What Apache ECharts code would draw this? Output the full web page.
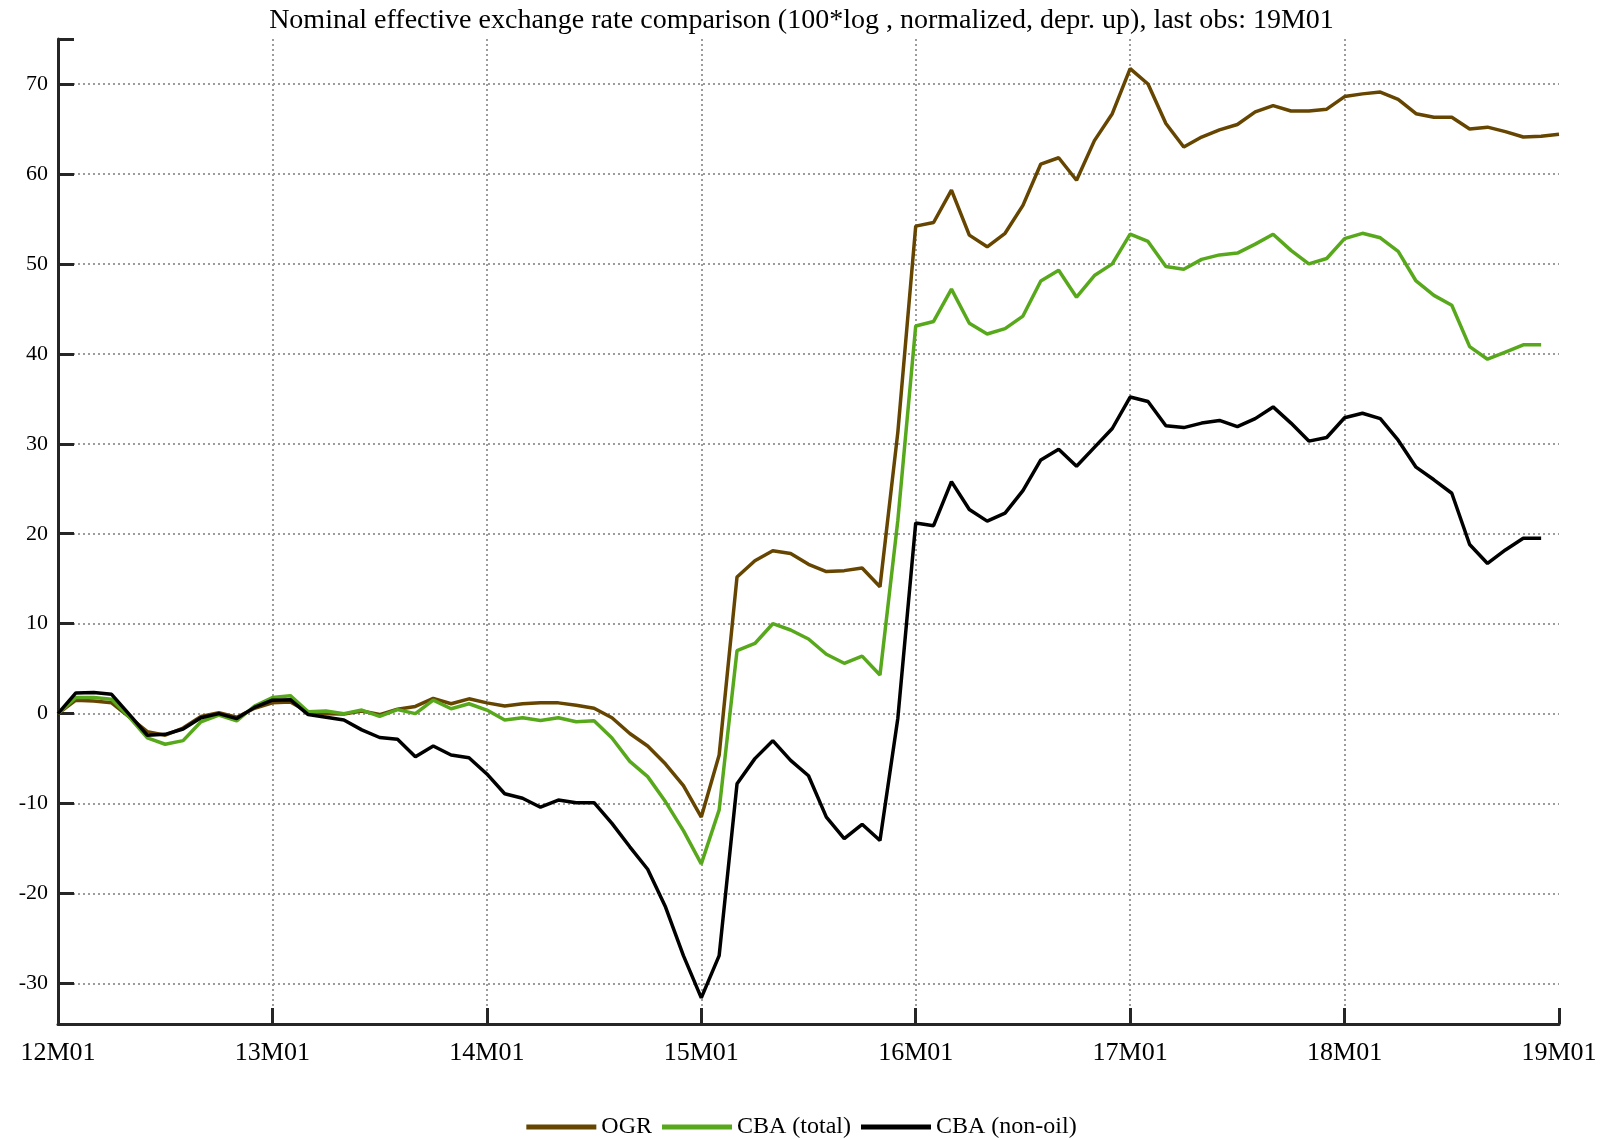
<!DOCTYPE html>
<html>
<head>
<meta charset="utf-8">
<script src="https://cdn.jsdelivr.net/npm/echarts@6/dist/echarts.min.js"></script>
<style>
  html, body { margin: 0; padding: 0; background: #fff; }
  #neer-chart { width: 1603px; height: 1140px; }
</style>
</head>
<body>
<div id="neer-chart"></div>
<script>
// months 12M01 .. 19M01
const months = []
for (let y = 12; y <= 19; y++) {
  for (let m = 1; m <= 12; m++) {
    if (y === 19 && m > 1) break
    months.push(y + 'M' + String(m).padStart(2, '0'))
  }
}

const yMin = -34.5
const yMax = 75
const yStep = 10

const ogr = [
  0, 1.5, 1.4, 1.2, -0.4, -2.0, -2.4, -1.6, -0.3, 0.1, -0.4, 0.6,
  1.2, 1.3, 0.2, 0.0, -0.05, 0.3, -0.1, 0.5, 0.8, 1.7, 1.1, 1.65,
  1.2, 0.85, 1.1, 1.2, 1.2, 0.93, 0.6, -0.45, -2.2, -3.6, -5.6, -8.0,
  -11.5, -4.6, 15.2, 17.0, 18.1, 17.8, 16.6, 15.8, 15.9, 16.2, 14.1, 31.3,
  54.2, 54.6, 58.2, 53.2, 51.9, 53.4, 56.5, 61.1, 61.8, 59.3, 63.7, 66.7,
  71.7, 70.0, 65.6, 63.0, 64.1, 64.9, 65.5, 66.9, 67.6, 67.0, 67.0, 67.2,
  68.6, 68.9, 69.1, 68.3, 66.7, 66.3, 66.3, 65.0, 65.2, 64.7, 64.1, 64.2,
  64.4
]

const cbaTotal = [
  0, 1.8, 1.8, 1.6, -0.4, -2.7, -3.4, -3.0, -0.9, -0.15, -0.8, 0.85,
  1.8, 2.0, 0.2, 0.3, 0.0, 0.4, -0.3, 0.45, 0.0, 1.5, 0.55, 1.1,
  0.4, -0.7, -0.45, -0.75, -0.45, -0.9, -0.8, -2.7, -5.3, -7.0, -9.8, -13.0,
  -16.7, -10.7, 7.0, 7.8, 10.0, 9.3, 8.3, 6.6, 5.6, 6.4, 4.3, 21.5,
  43.1, 43.6, 47.2, 43.4, 42.2, 42.8, 44.2, 48.1, 49.3, 46.3, 48.7, 50.0,
  53.3, 52.5, 49.7, 49.4, 50.5, 51.0, 51.2, 52.2, 53.3, 51.5, 50.0, 50.6,
  52.8, 53.4, 52.9, 51.4, 48.1, 46.5, 45.4, 40.8, 39.4, 40.2, 41.0, 41.0,
  null
]

const cbaNonOil = [
  0, 2.3, 2.35, 2.15, -0.1, -2.4, -2.3, -1.7, -0.45, 0.0, -0.55, 0.7,
  1.5, 1.55, -0.1, -0.4, -0.7, -1.8, -2.65, -2.85, -4.8, -3.6, -4.6, -4.9,
  -6.7, -8.9, -9.4, -10.4, -9.6, -9.9, -9.9, -12.2, -14.8, -17.3, -21.5, -26.9,
  -31.6, -26.9, -7.8, -5.0, -3.0, -5.2, -6.9, -11.5, -13.9, -12.3, -14.1, -0.5,
  21.2, 20.9, 25.8, 22.7, 21.4, 22.3, 24.8, 28.2, 29.4, 27.5, 29.6, 31.7,
  35.2, 34.7, 32.0, 31.8, 32.3, 32.6, 31.9, 32.8, 34.1, 32.3, 30.3, 30.7,
  32.9, 33.4, 32.8, 30.4, 27.4, 26.0, 24.5, 18.8, 16.7, 18.2, 19.5, 19.5,
  null
]

const font = 'Liberation Serif'
const axisColor = '#262626'
const gridLine = {
  show: true,
  showMinLine: false,
  showMaxLine: false,
  lineStyle: { color: '#9c9c9c', width: 2, type: [2, 3] }
}
const tickStyle = { color: axisColor, width: 3 }

const chart = echarts.init(document.getElementById('neer-chart'))

const lineSeries = (name, data, color) => ({
  name: name,
  type: 'line',
  data: data,
  showSymbol: false,
  connectNulls: false,
  lineStyle: { width: 3.5, color: color },
  itemStyle: { color: color }
})

// only label the multiples of 10, not the ends of the range
const yLabel = (v) => (v % yStep === 0 ? String(v) : '')

chart.setOption({
  animation: false,
  textStyle: { fontFamily: font },
  title: {
    text: 'Nominal effective exchange rate comparison (100*log , normalized, depr. up), last obs: 19M01',
    left: 'center',
    top: 2,
    textStyle: { fontFamily: font, fontWeight: 'normal', fontSize: 28, color: '#000' }
  },
  legend: {
    top: 1110,
    left: 'center',
    icon: 'rect',
    itemWidth: 70,
    itemHeight: 5,
    itemGap: 10,
    textStyle: { fontFamily: font, fontSize: 24, color: '#000' },
    data: ['OGR', 'CBA (total)', 'CBA (non-oil)']
  },
  grid: {
    left: 58,
    right: 44,
    top: 39,
    bottom: 116
  },
  xAxis: [
    {
      // gridlines + labels
      type: 'category',
      data: months,
      boundaryGap: false,
      axisLine: { show: false, onZero: false },
      axisTick: { show: false },
      axisLabel: { interval: 11, margin: 16, fontFamily: font, fontSize: 26, color: '#000' },
      splitLine: Object.assign({ interval: 11 }, gridLine)
    },
    {
      // axis line + inward ticks
      type: 'category',
      data: months,
      position: 'bottom',
      boundaryGap: false,
      axisLine: { show: true, onZero: false, lineStyle: tickStyle },
      axisTick: { show: true, inside: true, length: 16, interval: 11, lineStyle: tickStyle },
      axisLabel: { show: false },
      splitLine: { show: false }
    }
  ],
  yAxis: [
    {
      type: 'value',
      min: yMin,
      max: yMax,
      splitNumber: 11,
      axisLine: { show: true, onZero: false, lineStyle: tickStyle },
      axisTick: { show: true, inside: true, length: 16, lineStyle: tickStyle },
      axisLabel: { formatter: yLabel, margin: 10, fontFamily: font, fontSize: 22, color: '#000' },
      splitLine: gridLine
    },
    {
      type: 'value',
      position: 'left',
      min: yMin,
      max: yMax,
      splitNumber: 11,
      axisLine: { show: false, onZero: false },
      axisTick: { show: true, inside: true, length: 16, lineStyle: tickStyle },
      axisLabel: { show: false },
      splitLine: { show: false }
    }
  ],
  series: [
    lineSeries('OGR', ogr, '#654500'),
    lineSeries('CBA (total)', cbaTotal, '#58a81c'),
    lineSeries('CBA (non-oil)', cbaNonOil, '#000000')
  ]
})
</script>
</body>
</html>
